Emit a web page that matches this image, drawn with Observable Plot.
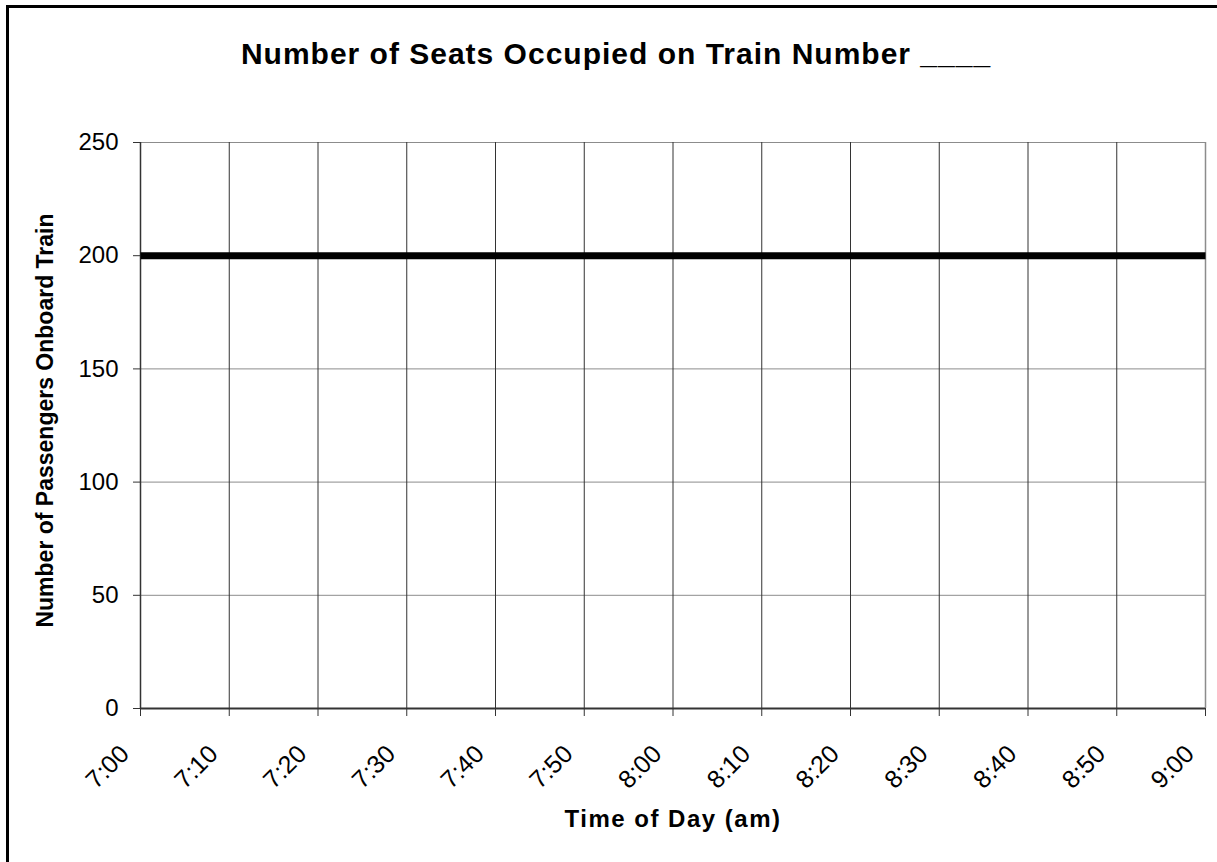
<!DOCTYPE html>
<html>
<head>
<meta charset="utf-8">
<script src="https://cdn.jsdelivr.net/npm/d3@7"></script>
<script src="https://cdn.jsdelivr.net/npm/@observablehq/plot@0.6"></script>
<style>
  html, body { margin: 0; padding: 0; background: #fff; overflow: hidden; }
  #wrap { position: relative; width: 1217px; height: 862px; overflow: hidden; font-family: "Liberation Sans", Arial, sans-serif; }
  #border { position: absolute; left: 6px; top: 5px; width: 1300px; height: 1000px; border: 3px solid #000; box-sizing: border-box; }
  #title { position: absolute; left: 0; width: 1232px; top: 39px; line-height: 30px; text-align: center; font-size: 30px; font-weight: bold; letter-spacing: 1px; color: #000; }
  #chart { position: absolute; left: 0; top: 0; }
</style>
</head>
<body>
<div id="wrap">
  <div id="border"></div>
  <div id="chart"></div>
  <div id="title">Number of Seats Occupied on Train Number ____</div>
</div>
<script>
// Data
const tickLabels = ["7:00","7:10","7:20","7:30","7:40","7:50","8:00","8:10","8:20","8:30","8:40","8:50","9:00"];
const yTicks = [0, 50, 100, 150, 200, 250];
const seatTimes = ["7:00","7:10","7:20","7:30","7:40","7:50","8:00","8:10","8:20","8:30","8:40","8:50","9:00"];
const seatValues = [200, 200, 200, 200, 200, 200, 200, 200, 200, 200, 200, 200, 200];
const xTitle = "Time of Day (am)";
const yTitle = "Number of Passengers Onboard Train";

const toMin = s => { const [h, m] = s.split(":").map(Number); return h * 60 + m; };
const tickMins = tickLabels.map(toMin);
const labelOf = new Map(tickLabels.map(l => [toMin(l), l]));
const series = seatTimes.map((t, i) => ({x: toMin(t), y: seatValues[i]}));

const font = "'Liberation Sans', Arial, sans-serif";

const chart = Plot.plot({
  width: 1217,
  height: 862,
  marginLeft: 140,
  marginRight: 12,
  marginTop: 142,
  marginBottom: 154,
  style: {fontFamily: font, background: "transparent", color: "#000"},
  x: {domain: [tickMins[0], tickMins[tickMins.length - 1]]},
  y: {domain: [0, 250]},
  marks: [
    Plot.gridY(yTicks, {stroke: "#8c8c8c", strokeOpacity: 1, strokeWidth: 1}),
    Plot.gridX(tickMins, {stroke: "#333", strokeOpacity: 1, strokeWidth: 1}),
    Plot.ruleX([tickMins[tickMins.length - 1]], {stroke: "#8c8c8c", strokeWidth: 1.5}),
    Plot.ruleX([tickMins[0]], {stroke: "#333", strokeWidth: 1.5}),
    Plot.ruleY([0], {stroke: "#333", strokeWidth: 2}),
    Plot.axisY({ticks: yTicks, tickSize: 7, tickPadding: 15, fontSize: 24, label: null, stroke: "#333"}),
    Plot.axisX({ticks: tickMins, tickSize: 8, tickFormat: () => "", label: null, stroke: "#333"}),
    Plot.text(tickMins, {
      x: d => d, text: d => labelOf.get(d), frameAnchor: "bottom",
      rotate: -45, textAnchor: "end", dx: -10, dy: 47, fontSize: 25, fill: "#000"
    }),
    Plot.line(series, {x: "x", y: "y", stroke: "#000", strokeWidth: 7, strokeLinecap: "butt"}),
    Plot.text([yTitle], {frameAnchor: "left", textAnchor: "middle", dx: -95, dy: -5, rotate: -90, fontSize: 23, fontWeight: "bold", fill: "#000"}),
    Plot.text([xTitle], {frameAnchor: "bottom", textAnchor: "middle", dy: 118, fontSize: 24, fontWeight: "bold", fill: "#000"})
  ]
});
chart.querySelectorAll("text").forEach(t => { if (t.textContent === xTitle) t.setAttribute("letter-spacing", "1.5"); });
document.getElementById("chart").appendChild(chart);
</script>
</body>
</html>
